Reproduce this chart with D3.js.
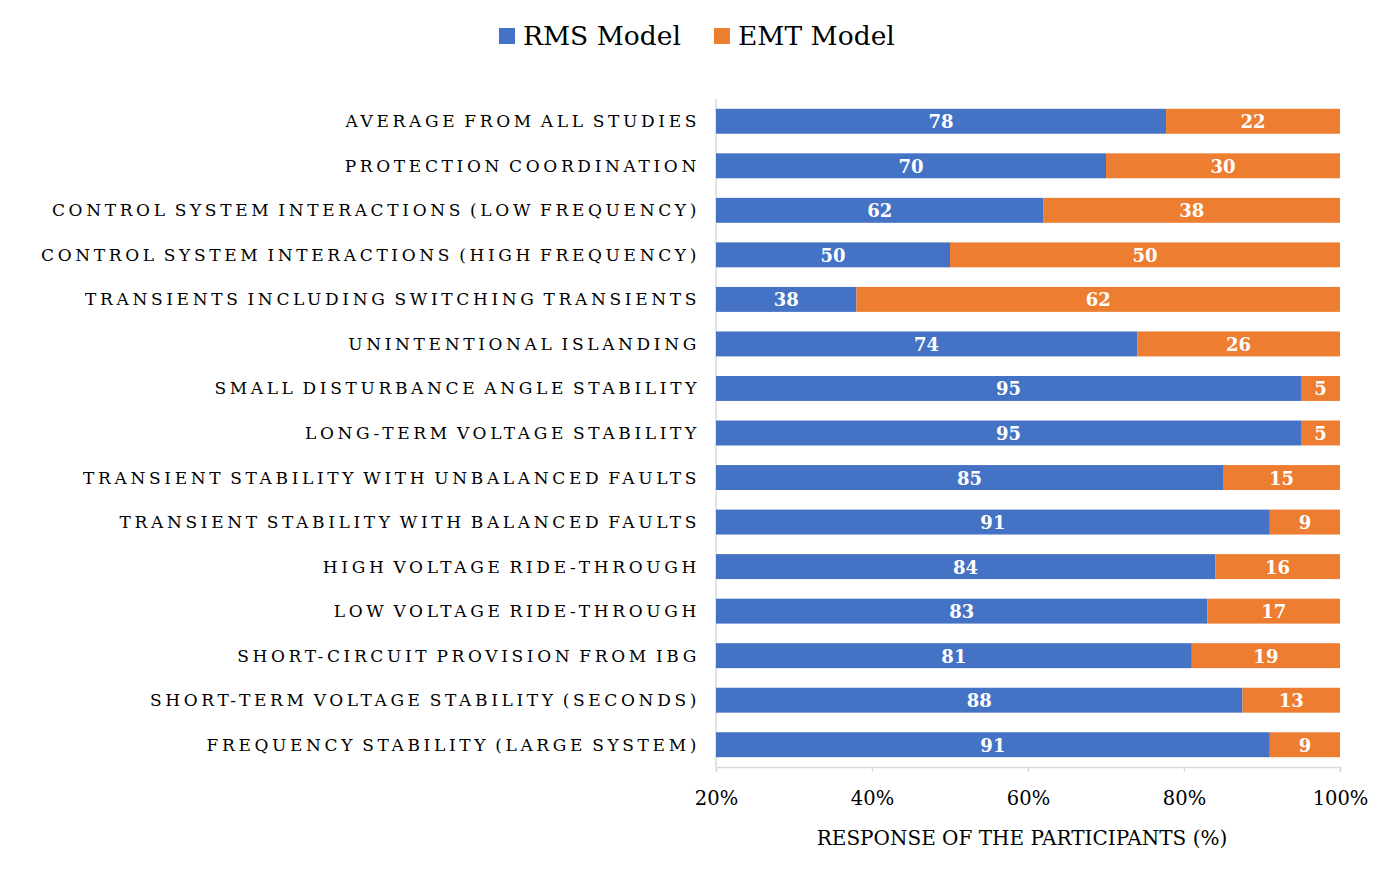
<!DOCTYPE html>
<html>
<head>
<meta charset="utf-8">
<script src="https://cdn.jsdelivr.net/npm/d3@7"></script>
<style>
  body { margin: 0; background: #fff; }
  text { font-family: "DejaVu Serif", "Liberation Serif", serif; }
</style>
</head>
<body>
<div id="chart"></div>
<script>
// data, top row first
const categories = [
  "AVERAGE FROM ALL STUDIES",
  "PROTECTION COORDINATION",
  "CONTROL SYSTEM INTERACTIONS (LOW FREQUENCY)",
  "CONTROL SYSTEM INTERACTIONS (HIGH FREQUENCY)",
  "TRANSIENTS INCLUDING SWITCHING TRANSIENTS",
  "UNINTENTIONAL ISLANDING",
  "SMALL DISTURBANCE ANGLE STABILITY",
  "LONG-TERM VOLTAGE STABILITY",
  "TRANSIENT STABILITY WITH UNBALANCED FAULTS",
  "TRANSIENT STABILITY WITH BALANCED FAULTS",
  "HIGH VOLTAGE RIDE-THROUGH",
  "LOW VOLTAGE RIDE-THROUGH",
  "SHORT-CIRCUIT PROVISION FROM IBG",
  "SHORT-TERM VOLTAGE STABILITY (SECONDS)",
  "FREQUENCY STABILITY (LARGE SYSTEM)"
];
const rmsValues = [77.7, 70, 62, 50, 38, 74, 95, 95, 85, 91, 84, 83, 81, 87.5, 91];
const emtValues = [22.3, 30, 38, 50, 62, 26, 5, 5, 15, 9, 16, 17, 19, 12.5, 9];
const seriesNames = ["RMS Model", "EMT Model"];
const xTicks = [20, 40, 60, 80, 100];

const colors = ["#4472c4", "#ed7d31"];

const W = 1385, H = 891,
      margin = {top: 99, right: 45, bottom: 124, left: 716};

const svg = d3.select("#chart").append("svg")
    .attr("width", W).attr("height", H);

const x = d3.scaleLinear().domain([20, 100]).range([margin.left, W - margin.right]);
const y = d3.scaleBand().domain(categories)
    .range([margin.top, H - margin.bottom]).paddingInner(0.44).paddingOuter(0.22);

const rows = categories.map((c, i) => ({cat: c, rms: rmsValues[i], emt: emtValues[i]}));

// axes lines
svg.append("line")
  .attr("x1", x(20)).attr("x2", x(20))
  .attr("y1", margin.top).attr("y2", H - margin.bottom)
  .attr("stroke", "#d9d9d9").attr("stroke-width", 1.5);

const xAxis = svg.append("g")
  .attr("transform", "translate(0," + (H - margin.bottom) + ")")
  .call(d3.axisBottom(x).tickValues(xTicks).tickSize(5).tickFormat(d => d + "%"));
xAxis.select(".domain").attr("stroke", "#d9d9d9").attr("stroke-width", 1.5);
xAxis.selectAll(".tick line").attr("stroke", "#d9d9d9").attr("stroke-width", 1.5);
xAxis.selectAll(".tick text")
  .attr("y", 24).attr("fill", "#000")
  .style("font-size", "19.5px")
  .style("font-family", "'DejaVu Serif', serif");

// bars
const g = svg.append("g");
const row = g.selectAll(".row").data(rows).enter().append("g");

row.append("rect")
  .attr("x", x(20)).attr("y", d => y(d.cat))
  .attr("width", d => x(d.rms) - x(20)).attr("height", y.bandwidth())
  .attr("fill", colors[0]);

row.append("rect")
  .attr("x", d => x(d.rms)).attr("y", d => y(d.cat))
  .attr("width", d => x(d.rms + d.emt) - x(d.rms)).attr("height", y.bandwidth())
  .attr("fill", colors[1]);

const fmt = d3.format(".0f");
row.append("text")
  .attr("x", d => (x(20) + x(d.rms)) / 2)
  .attr("y", d => y(d.cat) + y.bandwidth() / 2 + 7)
  .attr("text-anchor", "middle").attr("fill", "#fff")
  .style("font-size", "18px").style("font-weight", "bold")
  .text(d => fmt(d.rms));

row.append("text")
  .attr("x", d => (x(d.rms) + x(d.rms + d.emt)) / 2)
  .attr("y", d => y(d.cat) + y.bandwidth() / 2 + 7)
  .attr("text-anchor", "middle").attr("fill", "#fff")
  .style("font-size", "18px").style("font-weight", "bold")
  .text(d => fmt(d.emt));

// category labels
svg.selectAll(".cat").data(categories).enter().append("text")
  .attr("x", margin.left - 16)
  .attr("y", d => y(d) + y.bandwidth() / 2 + 6)
  .attr("text-anchor", "end")
  .style("font-size", "17px")
  .style("letter-spacing", "3.65px")
  .style("word-spacing", "-3px")
  .text(d => d);

// axis title
svg.append("text")
  .attr("x", (x(20) + x(100)) / 2 - 6).attr("y", 845)
  .attr("text-anchor", "middle")
  .style("font-size", "20px")
  .text("RESPONSE OF THE PARTICIPANTS (%)");

// legend
const legend = svg.append("g");
const legX = [499, 714];
seriesNames.forEach((s, i) => {
  legend.append("rect")
    .attr("x", legX[i]).attr("y", 28).attr("width", 16).attr("height", 16)
    .attr("fill", colors[i]);
  legend.append("text")
    .attr("x", legX[i] + 24).attr("y", 45)
    .style("font-size", "26.5px")
    .text(s);
});
</script>
</body>
</html>
